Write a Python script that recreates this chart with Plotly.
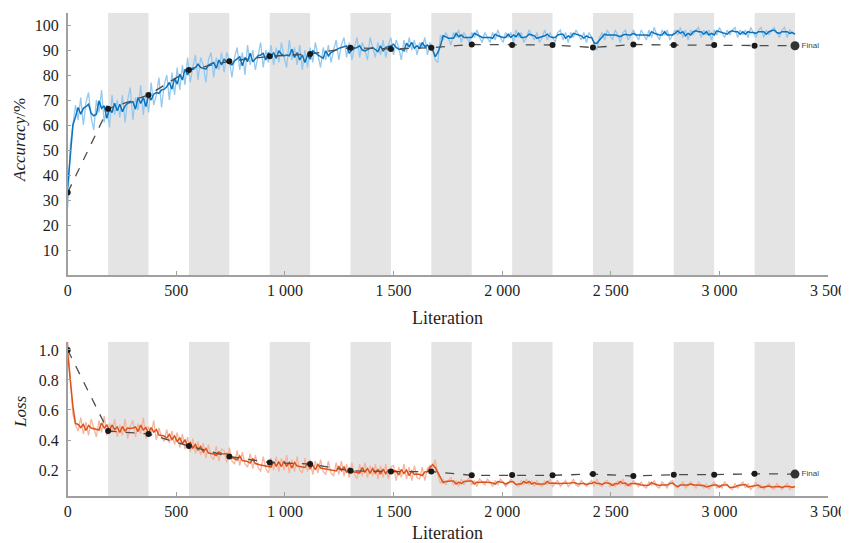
import numpy as np
import plotly.graph_objects as go

# ---------------- data ----------------
ITER_STEP = 12
ITERATIONS = list(range(0, 3349, ITER_STEP))

TRAIN_ACC = [
    27, 52, 60, 68, 62, 71, 60, 69, 73, 63, 58, 70, 65, 74, 61, 68, 59, 72, 64, 70,
    63, 72, 61, 70, 75, 62, 71, 66, 76, 64, 73, 65, 77, 68, 72, 79, 67, 76, 80, 70,
    81, 72, 83, 74, 84, 76, 87, 77, 83, 88, 78, 87, 84, 77, 86, 89, 79, 87, 82, 89,
    81, 89, 86, 79, 87, 91, 82, 89, 80, 92, 84, 90, 82, 88, 93, 83, 90, 85, 92, 84,
    91, 85, 93, 87, 83, 94, 86, 91, 84, 92, 82, 90, 83, 91, 85, 93, 88, 83, 91, 86,
    92, 85, 90, 94, 86, 92, 95, 87, 93, 86, 91, 95, 87, 93, 90, 86, 95, 91, 87, 93,
    88, 94, 87, 92, 95, 88, 94, 91, 86, 94, 89, 95, 90, 94, 88, 93, 91, 95, 88, 93,
    91, 86, 85, 96, 94, 97, 95, 92, 97, 95, 98, 93, 97, 95, 93, 97, 95, 98, 95, 93,
    97, 95, 93, 97, 94, 98, 95, 93, 97, 95, 97, 93, 98, 95, 97, 93, 95, 98, 96, 94,
    97, 93, 95, 98, 94, 97, 95, 93, 97, 98, 94, 97, 93, 97, 95, 98, 96, 94, 97, 93,
    97, 95, 93, 90, 95, 97, 94, 98, 96, 94, 98, 96, 93, 97, 98, 94, 96, 98, 96, 94,
    98, 96, 94, 98, 95, 99, 96, 94, 98, 96, 98, 94, 96, 98, 96, 99, 95, 98, 94, 98,
    96, 98, 99, 95, 98, 96, 98, 94, 98, 96, 99, 97, 95, 98, 96, 98, 99, 95, 98, 96,
    98, 95, 99, 97, 95, 98, 99, 95, 98, 96, 98, 99, 97, 95, 98, 99, 95, 98, 97, 96,
]

TRAIN_LOSS = [
    1.06, 0.80, 0.57, 0.50, 0.46, 0.55, 0.44, 0.52, 0.43, 0.54, 0.47, 0.42, 0.53, 0.45, 0.56, 0.43, 0.51, 0.45, 0.54, 0.42,
    0.50, 0.43, 0.54, 0.41, 0.49, 0.53, 0.42, 0.51, 0.44, 0.55, 0.41, 0.49, 0.43, 0.53, 0.40, 0.48, 0.42, 0.39, 0.47, 0.38,
    0.46, 0.37, 0.45, 0.35, 0.44, 0.34, 0.42, 0.32, 0.41, 0.31, 0.39, 0.30, 0.38, 0.28, 0.37, 0.29, 0.27, 0.36, 0.26, 0.34,
    0.33, 0.25, 0.35, 0.26, 0.24, 0.33, 0.23, 0.32, 0.24, 0.22, 0.31, 0.21, 0.30, 0.22, 0.19, 0.29, 0.21, 0.18, 0.28, 0.20,
    0.29, 0.19, 0.28, 0.20, 0.30, 0.18, 0.27, 0.19, 0.29, 0.20, 0.18, 0.28, 0.19, 0.27, 0.17, 0.26, 0.18, 0.27, 0.19, 0.17,
    0.26, 0.18, 0.16, 0.25, 0.17, 0.26, 0.16, 0.24, 0.15, 0.25, 0.17, 0.14, 0.24, 0.16, 0.25, 0.15, 0.23, 0.16, 0.24, 0.14,
    0.23, 0.15, 0.24, 0.14, 0.22, 0.23, 0.13, 0.22, 0.15, 0.24, 0.14, 0.22, 0.13, 0.23, 0.15, 0.14, 0.22, 0.13, 0.21, 0.23,
    0.21, 0.27, 0.17, 0.11, 0.14, 0.10, 0.13, 0.15, 0.10, 0.13, 0.09, 0.14, 0.10, 0.13, 0.15, 0.10, 0.13, 0.09, 0.14, 0.12,
    0.10, 0.14, 0.12, 0.09, 0.13, 0.10, 0.14, 0.12, 0.09, 0.11, 0.14, 0.12, 0.10, 0.09, 0.13, 0.10, 0.14, 0.10, 0.13, 0.09,
    0.13, 0.10, 0.09, 0.13, 0.10, 0.14, 0.09, 0.11, 0.13, 0.09, 0.11, 0.13, 0.09, 0.11, 0.14, 0.10, 0.09, 0.13, 0.11, 0.09,
    0.11, 0.13, 0.09, 0.14, 0.10, 0.09, 0.12, 0.13, 0.09, 0.11, 0.09, 0.13, 0.10, 0.14, 0.09, 0.11, 0.09, 0.13, 0.11, 0.09,
    0.12, 0.09, 0.08, 0.12, 0.10, 0.13, 0.09, 0.08, 0.12, 0.10, 0.08, 0.12, 0.13, 0.09, 0.08, 0.10, 0.12, 0.08, 0.10, 0.12,
    0.10, 0.08, 0.12, 0.10, 0.08, 0.11, 0.07, 0.10, 0.12, 0.08, 0.10, 0.08, 0.12, 0.10, 0.08, 0.07, 0.11, 0.08, 0.10, 0.12,
    0.08, 0.11, 0.07, 0.09, 0.12, 0.08, 0.10, 0.07, 0.09, 0.11, 0.08, 0.07, 0.11, 0.09, 0.07, 0.09, 0.11, 0.07, 0.09, 0.09,
]

EPOCH_LEN = 186
N_EPOCHS = 18
VAL_ITERS = [EPOCH_LEN * k for k in range(N_EPOCHS + 1)]
VAL_ACC = [33, 66.5, 72, 82, 85.5, 87.5, 88.4, 90.9, 90.4, 90.9, 92.2, 92, 92, 91, 92.2, 92, 92, 91.7, 91.7]
VAL_LOSS = [1.0, 0.46, 0.44, 0.36, 0.29, 0.25, 0.24, 0.195, 0.19, 0.19, 0.165, 0.167, 0.165,
            0.173, 0.16, 0.169, 0.169, 0.175, 0.173]

X_TICKS = [0, 500, 1000, 1500, 2000, 2500, 3000, 3500]
X_TICK_LABELS = ["0", "500", "1 000", "1 500", "2 000", "2 500", "3 000", "3 500"]
ACC_TICKS = [10, 20, 30, 40, 50, 60, 70, 80, 90, 100]
LOSS_TICKS = [0.2, 0.4, 0.6, 0.8, 1.0]
LOSS_TICK_LABELS = ["0.2", "0.4", "0.6", "0.8", "1.0"]


def smooth(values, w=3):
    arr = np.asarray(values, dtype=float)
    pad = np.pad(arr, (w // 2, w // 2), mode="edge")
    return np.convolve(pad, np.ones(w) / w, mode="valid")


FONT = "Times New Roman, Liberation Serif, DejaVu Serif, serif"
TXT = "#1e1e1e"
AXIS_COL = "#a0a0a0"

# the page places the figure 8 px from the top-left corner of the window
OFF = 8
W, H = 849 - OFF, 543 - OFF


def px(x):
    return (x - OFF) / W


def py(y):
    return 1 - (y - OFF) / H


fig = go.Figure()

# accuracy traces
fig.add_trace(go.Scatter(x=ITERATIONS, y=TRAIN_ACC, mode="lines",
                         line=dict(color="#95c8ef", width=1.3), xaxis="x", yaxis="y",
                         showlegend=False, hoverinfo="skip"))
fig.add_trace(go.Scatter(x=ITERATIONS, y=smooth(TRAIN_ACC), mode="lines",
                         line=dict(color="#0b72bd", width=1.5), xaxis="x", yaxis="y",
                         showlegend=False))
fig.add_trace(go.Scatter(x=VAL_ITERS, y=VAL_ACC, mode="lines+markers",
                         line=dict(color="#4d4d4d", width=1.3, dash="dash"),
                         marker=dict(color="#1a1a1a", size=6),
                         xaxis="x", yaxis="y", showlegend=False))
fig.add_trace(go.Scatter(x=[VAL_ITERS[-1]], y=[VAL_ACC[-1]], mode="markers+text",
                         marker=dict(color="#333333", size=9),
                         text=["Final"], textposition="middle right",
                         textfont=dict(size=8, color="#444444", family="Liberation Sans"),
                         xaxis="x", yaxis="y", showlegend=False))

# loss traces
fig.add_trace(go.Scatter(x=ITERATIONS, y=TRAIN_LOSS, mode="lines",
                         line=dict(color="#f5b49b", width=1.3), xaxis="x2", yaxis="y2",
                         showlegend=False, hoverinfo="skip"))
fig.add_trace(go.Scatter(x=ITERATIONS, y=smooth(TRAIN_LOSS), mode="lines",
                         line=dict(color="#d9531e", width=1.5), xaxis="x2", yaxis="y2",
                         showlegend=False))
fig.add_trace(go.Scatter(x=VAL_ITERS, y=VAL_LOSS, mode="lines+markers",
                         line=dict(color="#4d4d4d", width=1.3, dash="dash"),
                         marker=dict(color="#1a1a1a", size=6),
                         xaxis="x2", yaxis="y2", showlegend=False))
fig.add_trace(go.Scatter(x=[VAL_ITERS[-1]], y=[VAL_LOSS[-1]], mode="markers+text",
                         marker=dict(color="#333333", size=9),
                         text=["Final"], textposition="middle right",
                         textfont=dict(size=8, color="#444444", family="Liberation Sans"),
                         xaxis="x2", yaxis="y2", showlegend=False))

# epoch shading (every other epoch)
shapes = []
for k in range(1, N_EPOCHS, 2):
    for xr, yr in (("x", "y domain"), ("x2", "y2 domain")):
        shapes.append(dict(type="rect", xref=xr, yref=yr,
                           x0=VAL_ITERS[k], x1=VAL_ITERS[k + 1], y0=0, y1=1,
                           fillcolor="#e4e4e4", line=dict(width=0), layer="below"))

xdom = [px(67.7), px(828)]

axis_common = dict(showline=True, linecolor=AXIS_COL, linewidth=1.5, ticks="inside",
                   ticklen=4, tickcolor=AXIS_COL, showgrid=False, zeroline=False,
                   automargin=False,
                   tickfont=dict(family=FONT, size=16, color=TXT))

annotations = [
    dict(text="Literation", x=px(447), y=py(318), xref="paper", yref="paper",
         showarrow=False, font=dict(family=FONT, size=18, color=TXT),
         xanchor="center", yanchor="middle"),
    dict(text="Literation", x=px(447), y=py(533), xref="paper", yref="paper",
         showarrow=False, font=dict(family=FONT, size=18, color=TXT),
         xanchor="center", yanchor="middle"),
    dict(text="<i>Accuracy</i>/%", x=px(20), y=py(140), xref="paper", yref="paper",
         showarrow=False, textangle=-90, font=dict(family=FONT, size=17, color=TXT),
         xanchor="center", yanchor="middle"),
    dict(text="<i>Loss</i>", x=px(20), y=py(412), xref="paper", yref="paper",
         showarrow=False, textangle=-90, font=dict(family=FONT, size=17, color=TXT),
         xanchor="center", yanchor="middle"),
]

fig.update_layout(
    width=W, height=H,
    margin=dict(l=0, r=0, t=0, b=0),
    paper_bgcolor="white", plot_bgcolor="white",
    shapes=shapes, annotations=annotations,
    xaxis=dict(domain=xdom, anchor="y", range=[0, 3500], tickvals=X_TICKS,
               ticktext=X_TICK_LABELS, ticklabelstandoff=0, **axis_common),
    yaxis=dict(domain=[py(275), py(13)], anchor="x", range=[0, 104.8],
               tickvals=ACC_TICKS, ticklabelstandoff=4, **axis_common),
    xaxis2=dict(domain=xdom, anchor="y2", range=[0, 3500], tickvals=X_TICKS,
                ticktext=X_TICK_LABELS, ticklabelstandoff=0, **axis_common),
    yaxis2=dict(domain=[py(496), py(342)], anchor="x2", range=[0.027, 1.053],
                tickvals=LOSS_TICKS, ticktext=LOSS_TICK_LABELS, ticklabelstandoff=4,
                **axis_common),
)

fig.write_html("out.html")
